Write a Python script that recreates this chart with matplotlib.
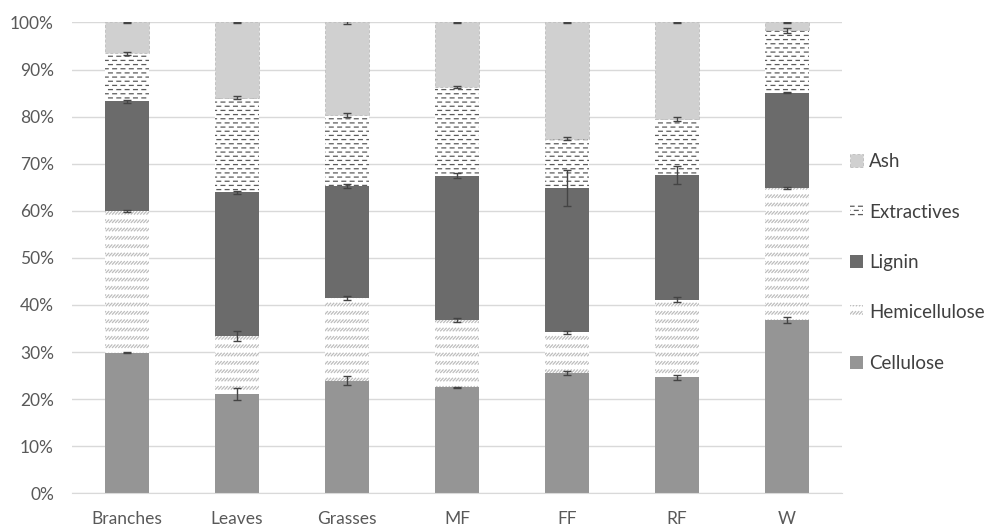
import numpy as np
import matplotlib
matplotlib.use('Agg')
import matplotlib.pyplot as plt
import matplotlib.hatch as mhatch
from matplotlib.path import Path

samples = ['Branches', 'Leaves', 'Grasses', 'MF', 'FF', 'RF', 'W']
components = ['Cellulose', 'Hemicellulose', 'Lignin', 'Extractives', 'Ash']

# composition in % of dry mass, per sample
cellulose = [29.9, 21.1, 23.9, 22.5, 25.5, 24.6, 36.8]
hemicellulose = [30.1, 12.3, 17.6, 14.3, 8.7, 16.5, 28.0]
lignin = [23.3, 30.5, 23.8, 30.7, 30.6, 26.5, 20.3]
extractives = [10.2, 20.1, 15.1, 18.8, 10.5, 11.9, 13.2]
ash = [6.5, 16.0, 19.6, 13.7, 24.7, 20.5, 1.7]

# standard deviations
cellulose_sd = [0.2, 1.2, 1.0, 0.1, 0.4, 0.6, 0.6]
hemicellulose_sd = [0.2, 1.1, 0.4, 0.4, 0.3, 0.5, 0.2]
lignin_sd = [0.3, 0.3, 0.5, 0.6, 3.8, 2.0, 0.1]
extractives_sd = [0.3, 0.3, 0.4, 0.2, 0.3, 0.4, 0.5]
ash_sd = [0.2, 0.2, 0.3, 0.2, 0.1, 0.1, 0.2]

yticks = np.arange(0, 101, 10)


class DashRows(mhatch.HatchPatternBase):
    # '-' hatch as staggered short dashes
    def __init__(self, hatch, density):
        self.rows = int(hatch.count('-') * density)
        self.cols = 12
        self.num_vertices = self.rows * self.cols * 2

    def set_vertices_and_codes(self, vertices, codes):
        k = 0
        for i in range(self.rows):
            y = (i + 0.5) / self.rows
            shift = 0.5 / self.cols if i % 2 else 0.0
            for j in range(self.cols):
                x0 = j / self.cols + shift + 0.03 / self.cols
                vertices[k] = (x0, y)
                vertices[k + 1] = (x0 + 0.45 / self.cols, y)
                codes[k] = Path.MOVETO
                codes[k + 1] = Path.LINETO
                k += 2


class ZigzagRows(mhatch.HatchPatternBase):
    # '/' hatch as rows of small slanted strokes
    def __init__(self, hatch, density):
        self.rows = int(hatch.count('/') * density)
        self.teeth = 32
        self.num_vertices = self.rows * self.teeth * 2

    def set_vertices_and_codes(self, vertices, codes):
        k = 0
        h = 0.026
        for i in range(self.rows):
            y = (i + 0.3) / self.rows
            for j in range(self.teeth):
                x = j / self.teeth
                vertices[k] = (x, y)
                vertices[k + 1] = (x + 0.8 / self.teeth, y + h)
                codes[k] = Path.MOVETO
                codes[k + 1] = Path.LINETO
                k += 2


mhatch._hatch_types = [DashRows if t is mhatch.HorizontalHatch else
                       ZigzagRows if t is mhatch.NorthEastHatch else t
                       for t in mhatch._hatch_types]

plt.rcParams['font.family'] = ['Lato', 'DejaVu Sans']
plt.rcParams['hatch.linewidth'] = 0.9

values = [cellulose, hemicellulose, lignin, extractives, ash]
errors = [cellulose_sd, hemicellulose_sd, lignin_sd, extractives_sd, ash_sd]
styles = [
    dict(color='#959595', edgecolor='#959595', linewidth=0),
    dict(color='white', edgecolor='#bdbdbd', linewidth=0, hatch='//'),
    dict(color='#6b6b6b', edgecolor='#6b6b6b', linewidth=0),
    dict(color='white', edgecolor='#5c5c5c', linewidth=0, hatch='----'),
    dict(color='#d0d0d0', edgecolor='#c2c2c2', linewidth=0.7, linestyle=(0, (3, 2))),
]

fig = plt.figure(figsize=(9.98, 5.28), dpi=100)
ax = fig.add_axes([0.0721, 0.0657, 0.7716, 0.8917])

x = np.arange(len(samples))
bottom = np.zeros(len(samples))
handles = []
for name, vals, sd, st in zip(components, values, errors, styles):
    vals = np.array(vals)
    b = ax.bar(x, vals, 0.4, bottom=bottom, label=name, zorder=2, **st)
    handles.append(b)
    top = bottom + vals
    ax.errorbar(x, top, yerr=sd, fmt='none', ecolor='#444444',
                elinewidth=1, capsize=2.8, capthick=1, zorder=3)
    bottom = top

ax.set_xlim(-0.5, len(samples) - 0.5)
ax.set_ylim(0, 100)
ax.set_yticks(yticks)
ax.set_yticklabels(['%d%%' % t for t in yticks])
ax.set_xticks(x)
ax.set_xticklabels(samples)
ax.yaxis.grid(True, color='#d9d9d9', linewidth=1, zorder=0)
ax.set_axisbelow(True)
for s in ['top', 'right', 'left']:
    ax.spines[s].set_visible(False)
ax.spines['bottom'].set_color('#d9d9d9')
ax.tick_params(axis='both', length=0, labelsize=12.5, labelcolor='#595959')
ax.tick_params(axis='y', pad=13)
ax.tick_params(axis='x', pad=13)

leg = fig.legend(handles[::-1], components[::-1], loc='center left',
                 bbox_to_anchor=(0.842, 0.503), frameon=False,
                 fontsize=13.5, labelspacing=1.78, handlelength=0.7,
                 handleheight=0.7, handletextpad=0.35, borderpad=0)
for t in leg.get_texts():
    t.set_color('#404040')

fig.savefig('out.png', dpi=100)
